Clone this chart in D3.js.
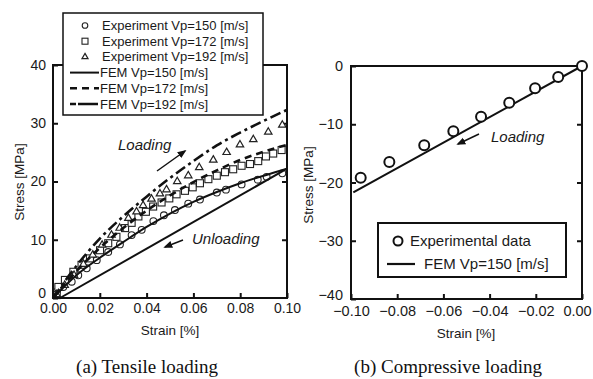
<!DOCTYPE html>
<html lang="en">
<head>
<meta charset="UTF-8">
<title>Stress-strain</title>
<style>
  body { margin: 0; background: #fff; }
  svg { display: block; }
  .axis text { font-family: "Liberation Sans", Arial, sans-serif; font-size: 14px; fill: #1a1a1a; }
  .axis line { stroke: #111; stroke-width: 2; }
  .axis path { display: none; }
  .frame { fill: none; stroke: #111; stroke-width: 2; }
  .lbl { font-family: "Liberation Sans", Arial, sans-serif; font-size: 13.5px; fill: #1a1a1a; }
  .leg { font-family: "Liberation Sans", Arial, sans-serif; font-size: 13px; fill: #1a1a1a; }
  .note { font-family: "Liberation Sans", Arial, sans-serif; font-size: 15px; font-style: italic; fill: #1a1a1a; }
  .cap { font-family: "Liberation Serif", "DejaVu Serif", serif; font-size: 19px; fill: #111; }
</style>
</head>
<body>
<script src="https://d3js.org/d3.v7.min.js"></script>
<script>
// ---- data (a) tensile ----
var femStrain = [0, 0.01, 0.02, 0.03, 0.04, 0.05, 0.06, 0.07, 0.08, 0.09, 0.10];
var fem150 = [0, 3.9, 6.9, 9.6, 12.2, 14.5, 16.5, 18.2, 19.7, 21.0, 22.2];
var fem172 = [0, 4.6, 8.6, 12.0, 15.0, 17.6, 19.9, 21.9, 23.7, 25.1, 26.3];
var fem192 = [0, 5.5, 10.2, 14.0, 17.4, 20.6, 23.5, 26.2, 28.4, 30.4, 32.3];
var unloadStrain = [0.10, 0.003];
var unloadStress = [22.2, 0];

var exp150Strain = [0.0016, 0.0044, 0.008, 0.0108, 0.0144, 0.0187, 0.0236, 0.0286, 0.0336, 0.0379, 0.0429, 0.0474, 0.0521, 0.0578, 0.0628, 0.07, 0.0739, 0.0806, 0.0875, 0.0913, 0.098];
var exp150Stress = [1.1, 1.9, 2.8, 3.9, 5.1, 6.5, 7.9, 9.2, 10.8, 11.7, 13.2, 14.2, 15.1, 16.2, 16.9, 18.1, 18.6, 19.5, 20.3, 20.8, 21.4];

var exp172Strain = [0.0016, 0.0023, 0.0051, 0.0087, 0.0122, 0.0158, 0.0201, 0.0236, 0.0271, 0.0308, 0.0336, 0.0365, 0.0397, 0.0428, 0.0464, 0.0497, 0.0528, 0.0564, 0.0597, 0.0628, 0.0664, 0.07, 0.0735, 0.077, 0.0806, 0.0842, 0.0877, 0.091, 0.0941, 0.0977];
var exp172Stress = [0.5, 1.9, 3.1, 4.5, 5.7, 6.8, 8.2, 9.4, 10.5, 12.0, 12.9, 14.0, 14.8, 15.7, 16.4, 17.1, 17.8, 18.4, 19.0, 19.7, 20.4, 21.0, 21.6, 22.1, 22.7, 23.0, 23.5, 24.3, 24.8, 25.4];

var exp192Strain = [0.0015, 0.005, 0.009, 0.013, 0.017, 0.021, 0.025, 0.0285, 0.0322, 0.0357, 0.0385, 0.0421, 0.0457, 0.0485, 0.0531, 0.0578, 0.0625, 0.0685, 0.0742, 0.0799, 0.0856, 0.092, 0.098];
var exp192Stress = [0.6, 2.2, 3.9, 5.8, 7.4, 9.1, 10.8, 12.0, 13.7, 14.8, 15.9, 17.0, 17.9, 18.6, 20.0, 21.0, 22.4, 23.7, 25.0, 26.3, 27.2, 28.5, 29.7];

var tensXTicks = [0, 0.02, 0.04, 0.06, 0.08, 0.10];
var tensYTicks = [0, 10, 20, 30, 40];

// ---- data (b) compressive ----
var compStrain = [-0.0958, -0.0834, -0.0683, -0.0557, -0.0437, -0.0315, -0.0203, -0.0103, 0];
var compStress = [-19.2, -16.5, -13.6, -11.2, -8.7, -6.3, -3.8, -1.9, 0];
var femCompStrain = [-0.099, 0];
var femCompStress = [-21.7, 0];
var compXTicks = [-0.10, -0.08, -0.06, -0.04, -0.02, 0];
var compYTicks = [-40, -30, -20, -10, 0];

var width = 593, height = 379;
var svg = d3.select('body').append('svg').attr('width', width).attr('height', height);
svg.append('rect').attr('width', width).attr('height', height).attr('fill', '#fff');

var zip = function (xs, ys) { return xs.map(function (x, i) { return [x, ys[i]]; }); };

var defs = svg.append('defs');
defs.append('marker').attr('id', 'arr').attr('viewBox', '0 0 10 10').attr('refX', 8).attr('refY', 5)
    .attr('markerWidth', 6).attr('markerHeight', 6).attr('orient', 'auto')
    .append('path').attr('d', 'M0,1 L10,5 L0,9 Z').attr('fill', '#111');

// ================= (a) =================
var xA = d3.scaleLinear().domain([0, 0.1]).range([53, 287]);
var yA = d3.scaleLinear().domain([0, 40]).range([298, 65]);
var lineA = d3.line().x(function (d) { return xA(d[0]); }).y(function (d) { return yA(d[1]); }).curve(d3.curveMonotoneX);
var lineStraightA = d3.line().x(function (d) { return xA(d[0]); }).y(function (d) { return yA(d[1]); });

var gA = svg.append('g');
gA.append('g').attr('class', 'axis').attr('transform', 'translate(0,' + yA(0) + ')')
    .call(d3.axisBottom(xA).tickValues(tensXTicks).tickFormat(d3.format('.2f')).tickSize(-5).tickPadding(5));
var yAxisA = gA.append('g').attr('class', 'axis').attr('transform', 'translate(' + xA(0) + ',0)')
    .call(d3.axisLeft(yA).tickValues(tensYTicks).tickFormat(d3.format('d')).tickSize(-5).tickPadding(7));
yAxisA.selectAll('.tick text').filter(function (d) { return d === 0; }).attr('dy', '-0.05em');
gA.append('g').attr('class', 'axis').attr('transform', 'translate(' + xA(0.1) + ',0)')
    .call(d3.axisRight(yA).tickValues([10, 20, 30]).tickFormat('').tickSize(-5));

// data markers
gA.selectAll('.c150').data(zip(exp150Strain, exp150Stress)).enter().append('circle')
    .attr('cx', function (d) { return xA(d[0]); }).attr('cy', function (d) { return yA(d[1]); })
    .attr('r', 3.4).attr('fill', '#fff').attr('stroke', '#222').attr('stroke-width', 1.1);
gA.selectAll('.s172').data(zip(exp172Strain, exp172Stress)).enter().append('rect')
    .attr('x', function (d) { return xA(d[0]) - 3.5; }).attr('y', function (d) { return yA(d[1]) - 3.5; })
    .attr('width', 7).attr('height', 7).attr('fill', '#fff').attr('stroke', '#222').attr('stroke-width', 1.1);
var tri = d3.symbol().type(d3.symbolTriangle).size(24);
gA.selectAll('.t192').data(zip(exp192Strain, exp192Stress)).enter().append('path')
    .attr('d', tri).attr('transform', function (d) { return 'translate(' + xA(d[0]) + ',' + yA(d[1]) + ')'; })
    .attr('fill', '#fff').attr('stroke', '#222').attr('stroke-width', 1.2);

// FEM curves
gA.append('path').attr('d', lineA(zip(femStrain, fem150))).attr('fill', 'none').attr('stroke', '#111').attr('stroke-width', 2);
gA.append('path').attr('d', lineStraightA(zip(unloadStrain, unloadStress))).attr('fill', 'none').attr('stroke', '#111').attr('stroke-width', 2);
gA.append('path').attr('d', lineA(zip(femStrain, fem172))).attr('fill', 'none').attr('stroke', '#111').attr('stroke-width', 2.6).attr('stroke-dasharray', '7,5');
gA.append('path').attr('d', lineA(zip(femStrain, fem192))).attr('fill', 'none').attr('stroke', '#111').attr('stroke-width', 2.6).attr('stroke-dasharray', '11,4,3,4');

gA.append('rect').attr('class', 'frame').attr('x', xA(0)).attr('y', yA(40)).attr('width', xA(0.1) - xA(0)).attr('height', yA(0) - yA(40));

// annotations
gA.append('text').attr('class', 'note').attr('x', 118).attr('y', 150).text('Loading');
gA.append('line').attr('x1', 157).attr('y1', 171).attr('x2', 185).attr('y2', 151).attr('stroke', '#111').attr('stroke-width', 1.5).attr('marker-end', 'url(#arr)');
gA.append('text').attr('class', 'note').attr('x', 192).attr('y', 244).text('Unloading');
gA.append('line').attr('x1', 183).attr('y1', 240).attr('x2', 165).attr('y2', 247).attr('stroke', '#111').attr('stroke-width', 1.5).attr('marker-end', 'url(#arr)');

// axis titles
gA.append('text').attr('class', 'lbl').attr('x', 170).attr('y', 335).attr('text-anchor', 'middle').text('Strain [%]');
gA.append('text').attr('class', 'lbl').attr('transform', 'translate(24,182) rotate(-90)').attr('text-anchor', 'middle').text('Stress [MPa]');

// legend (a)
var legA = gA.append('g');
legA.append('rect').attr('x', 63).attr('y', 13).attr('width', 200).attr('height', 102).attr('fill', '#fff').attr('stroke', '#111').attr('stroke-width', 1.5);
var legItems = [
    { kind: 'circle', label: 'Experiment Vp=150 [m/s]' },
    { kind: 'square', label: 'Experiment Vp=172 [m/s]' },
    { kind: 'tri', label: 'Experiment Vp=192 [m/s]' },
    { kind: 'solid', label: 'FEM Vp=150 [m/s]' },
    { kind: 'dash', label: 'FEM Vp=172 [m/s]' },
    { kind: 'dashdot', label: 'FEM Vp=192 [m/s]' }
];
legItems.forEach(function (it, i) {
    var y = 25.5 + i * 15.7;
    if (it.kind === 'circle') legA.append('circle').attr('cx', 85).attr('cy', y).attr('r', 2.8).attr('fill', '#fff').attr('stroke', '#222').attr('stroke-width', 1.1);
    if (it.kind === 'square') legA.append('rect').attr('x', 82).attr('y', y - 3).attr('width', 6).attr('height', 6).attr('fill', '#fff').attr('stroke', '#222').attr('stroke-width', 1.1);
    if (it.kind === 'tri') legA.append('path').attr('d', d3.symbol().type(d3.symbolTriangle).size(16)).attr('transform', 'translate(85,' + y + ')').attr('fill', '#fff').attr('stroke', '#222').attr('stroke-width', 1.2);
    if (it.kind === 'solid') legA.append('line').attr('x1', 70).attr('x2', 99).attr('y1', y).attr('y2', y).attr('stroke', '#111').attr('stroke-width', 2);
    if (it.kind === 'dash') legA.append('line').attr('x1', 70).attr('x2', 99).attr('y1', y).attr('y2', y).attr('stroke', '#111').attr('stroke-width', 2.6).attr('stroke-dasharray', '7,5');
    if (it.kind === 'dashdot') legA.append('line').attr('x1', 70).attr('x2', 99).attr('y1', y).attr('y2', y).attr('stroke', '#111').attr('stroke-width', 2.6).attr('stroke-dasharray', '6,2,20');
    legA.append('text').attr('class', 'leg').attr('x', i < 3 ? 102 : 100).attr('y', y + 4.5).text(it.label);
});

// ================= (b) =================
var xB = d3.scaleLinear().domain([-0.1, 0]).range([351, 582]);
var yB = d3.scaleLinear().domain([-40, 0]).range([299, 66]);
var lineB = d3.line().x(function (d) { return xB(d[0]); }).y(function (d) { return yB(d[1]); });

var gB = svg.append('g');
var xAxisB = gB.append('g').attr('class', 'axis').attr('transform', 'translate(0,' + yB(-40) + ')')
    .call(d3.axisBottom(xB).tickValues(compXTicks).tickFormat(d3.format('.2f')).tickSize(-5).tickPadding(7));
// keep the last label inside the page
xAxisB.selectAll('.tick text').filter(function (d) { return d === 0; }).attr('dx', -5);
var yAxisB = gB.append('g').attr('class', 'axis').attr('transform', 'translate(' + xB(-0.1) + ',0)')
    .call(d3.axisLeft(yB).tickValues(compYTicks).tickFormat(d3.format('d')).tickSize(-5).tickPadding(8));
yAxisB.selectAll('.tick text').filter(function (d) { return d === -40; }).attr('dy', '0.05em');
gB.append('g').attr('class', 'axis').attr('transform', 'translate(' + xB(0) + ',0)')
    .call(d3.axisRight(yB).tickValues([-30, -20, -10]).tickFormat('').tickSize(-5));
gB.selectAll('.axis text').style('font-size', '14.5px');

gB.append('path').attr('d', lineB(zip(femCompStrain, femCompStress))).attr('fill', 'none').attr('stroke', '#111').attr('stroke-width', 2);
gB.append('rect').attr('class', 'frame').attr('x', xB(-0.1)).attr('y', yB(0)).attr('width', xB(0) - xB(-0.1)).attr('height', yB(-40) - yB(0));
gB.selectAll('.cexp').data(zip(compStrain, compStress)).enter().append('circle')
    .attr('cx', function (d) { return xB(d[0]); }).attr('cy', function (d) { return yB(d[1]); })
    .attr('r', 5).attr('fill', '#fff').attr('stroke', '#111').attr('stroke-width', 2);

gB.append('text').attr('class', 'note').attr('x', 491).attr('y', 142).text('Loading');
gB.append('line').attr('x1', 479).attr('y1', 134).attr('x2', 458).attr('y2', 144).attr('stroke', '#111').attr('stroke-width', 1.5).attr('marker-end', 'url(#arr)');

gB.append('text').attr('class', 'lbl').attr('x', 466).attr('y', 338).attr('text-anchor', 'middle').text('Strain [%]');
gB.append('text').attr('class', 'lbl').attr('transform', 'translate(313,185) rotate(-90)').attr('text-anchor', 'middle').text('Stress [MPa]');

// legend (b)
var legB = gB.append('g');
legB.append('rect').attr('x', 378).attr('y', 223).attr('width', 188).attr('height', 54).attr('fill', '#fff').attr('stroke', '#111').attr('stroke-width', 2);
legB.append('circle').attr('cx', 398).attr('cy', 241).attr('r', 4.5).attr('fill', '#fff').attr('stroke', '#111').attr('stroke-width', 2);
legB.append('text').attr('class', 'leg').style('font-size', '15px').attr('x', 410).attr('y', 246).text('Experimental data');
legB.append('line').attr('x1', 387).attr('x2', 415).attr('y1', 264).attr('y2', 264).attr('stroke', '#111').attr('stroke-width', 2.2);
legB.append('text').attr('class', 'leg').style('font-size', '15px').attr('x', 424).attr('y', 269).text('FEM Vp=150 [m/s]');

// captions
svg.append('text').attr('class', 'cap').attr('x', 147).attr('y', 373).attr('text-anchor', 'middle').text('(a) Tensile loading');
svg.append('text').attr('class', 'cap').attr('x', 448).attr('y', 373).attr('text-anchor', 'middle').text('(b) Compressive loading');
</script>
</body>
</html>
